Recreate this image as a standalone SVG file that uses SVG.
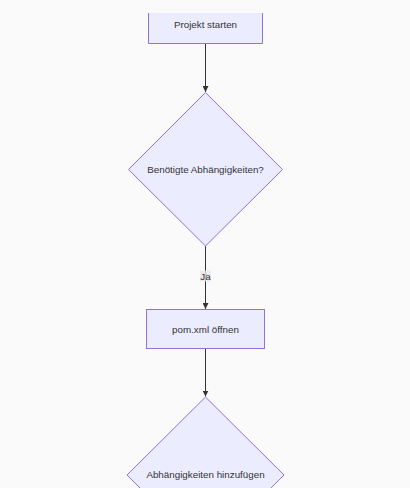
<svg xmlns="http://www.w3.org/2000/svg" width="410" height="488" viewBox="0 0 410 488">
<style>
.node{fill:#ECECFF;stroke:#9370DB;stroke-width:1}
.lbl{font-family:"Liberation Sans",Arial,sans-serif;font-size:9.8px;fill:#333333;text-anchor:middle;dominant-baseline:central}
.edge{stroke:#333333;stroke-width:1;fill:none}
.elbl{fill:#e8e8e8;opacity:0.8}
</style>
<defs>
<marker id="arr" viewBox="0 0 10 10" refX="10" refY="5" markerWidth="6" markerHeight="6" orient="auto" markerUnits="userSpaceOnUse">
<path d="M0,0 L10,5 L0,10 z" fill="#333333"/>
</marker>
</defs>
<rect x="0" y="0" width="410" height="488" fill="#fafafa"/>
<g id="edges">
<line class="edge" x1="205.5" y1="43.5" x2="205.5" y2="92" marker-end="url(#arr)"/>
<line class="edge" x1="205.5" y1="246" x2="205.5" y2="309" marker-end="url(#arr)"/>
<rect class="elbl" x="200" y="270.5" width="11" height="11"/>
<text class="lbl" x="205.5" y="276.5">Ja</text>
<line class="edge" x1="205.5" y1="348.5" x2="205.5" y2="396.5" marker-end="url(#arr)"/>
</g>
<g id="start">
<rect x="148.5" y="13" width="114" height="30.5" fill="#ECECFF"/>
<path d="M148.5,13 V43.5 H262.5 V13" class="node" style="fill:none"/>
<text class="lbl" x="205.5" y="24.5">Projekt starten</text>
</g>
<g id="decision1">
<polygon class="node" points="205.5,92.5 282.5,169.5 205.5,246 128.5,169.5"/>
<text class="lbl" x="205.5" y="169.5">Benötigte Abhängigkeiten?</text>
</g>
<g id="pom">
<rect class="node" x="146.5" y="309.5" width="118" height="39"/>
<text class="lbl" x="205.5" y="329">pom.xml öffnen</text>
</g>
<g id="decision2">
<polygon class="node" points="205.5,397 284,475 205.5,553 127,475"/>
<text class="lbl" x="205.5" y="474.5">Abhängigkeiten hinzufügen</text>
</g>
</svg>
